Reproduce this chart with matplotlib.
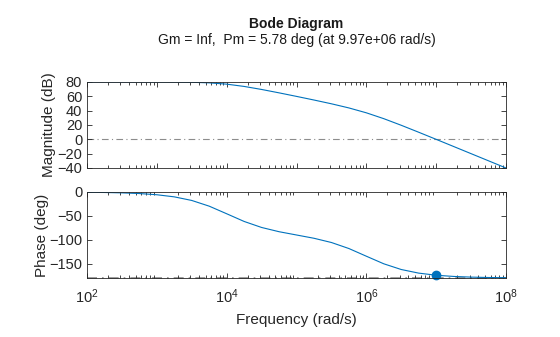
import numpy as np
from matplotlib import pyplot as plt
from matplotlib.ticker import LogLocator, LogFormatterSciNotation, NullFormatter

plt.rcParams.update({'font.family': ['Liberation Sans', 'DejaVu Sans'],
                     'mathtext.default': 'regular',
                     'font.size': 10.5})

# sampled frequency response (rad/s, dB, deg)
freq = [1e2, 1.778e2, 3.162e2, 5.623e2, 1e3, 1.778e3, 3.162e3, 5.623e3,
        1e4, 1.778e4, 3.162e4, 5.623e4, 1e5, 1.778e5, 3.162e5, 5.623e5,
        1e6, 1.778e6, 3.162e6, 5.623e6, 1e7, 1.778e7, 3.162e7, 5.623e7, 1e8]
mag_db = [80.00, 80.00, 80.00, 79.99, 79.96, 79.86, 79.59, 78.81,
          76.99, 73.80, 69.58, 64.85, 59.91, 54.85, 49.58, 43.81,
          36.99, 28.81, 19.59, 9.87, -0.04, -10.01, -20.00, -30.00, -40.00]
phase_deg = [-0.58, -1.03, -1.83, -3.25, -5.77, -10.18, -17.73, -29.68,
             -45.57, -61.66, -74.26, -83.14, -90.00, -96.86, -105.74, -118.34,
             -134.43, -150.32, -162.27, -169.82, -174.23, -176.75, -178.17, -178.97, -179.42]

# phase margin point
wc = 9.97e6
pm_phase = -174.22
pm = 5.78

blue = '#0072BD'
grey = '#8c8c8c'
axcol = '#262626'

fig = plt.figure(figsize=(5.6, 3.37), dpi=100)
ax1 = fig.add_axes([0.1554, 0.5015, 0.7482, 0.2552])
ax2 = fig.add_axes([0.1554, 0.1751, 0.7482, 0.2552])

ax1.semilogx(freq, mag_db, color=blue, lw=0.8)
ax1.axhline(0, color=grey, lw=0.8, ls=(0, (6, 3, 1, 3)), zorder=0)
ax1.set_ylim(-40, 80)
ax1.set_yticks([-40, -20, 0, 20, 40, 60, 80])
ax1.set_ylabel('Magnitude (dB)', fontsize=11, labelpad=1)

ax2.semilogx(freq, phase_deg, color=blue, lw=0.8)
ax2.axhline(-180, color=grey, lw=1.2, ls=(0, (6, 3, 1, 3)), zorder=0, clip_on=False)
ax2.plot([wc, wc], [-180, pm_phase], color=blue, lw=0.8)
ax2.plot(wc, pm_phase, 'o', color=blue, ms=6, clip_on=False)
ax2.set_ylim(-180, 0)
ax2.set_yticks([-150, -100, -50, 0])
ax2.set_ylabel('Phase (deg)', fontsize=11, labelpad=0)
ax2.set_xlabel('Frequency (rad/s)', fontsize=11, labelpad=5)

for ax in (ax1, ax2):
    ax.set_xlim(1e2, 1e8)
    ax.xaxis.set_major_locator(LogLocator(base=10, numticks=20))
    ax.xaxis.set_minor_locator(LogLocator(base=10, subs=np.arange(2, 10), numticks=20))
    ax.xaxis.set_minor_formatter(NullFormatter())
    ax.tick_params(which='both', direction='in', top=True, right=True,
                   colors=axcol, labelcolor=axcol, width=0.6)
    ax.tick_params(which='major', length=3.5)
    ax.tick_params(which='minor', length=2)
    ax.tick_params(axis='x', which='major', pad=7)
    for s in ax.spines.values():
        s.set_color(axcol)
        s.set_linewidth(0.6)
    ax.yaxis.label.set_color(axcol)
    ax.xaxis.label.set_color(axcol)

ax1.xaxis.set_major_formatter(NullFormatter())
ax2.xaxis.set_major_formatter(LogFormatterSciNotation())
ax2.set_xticks([1e2, 1e4, 1e6, 1e8])

fig.text(0.5295, 0.928, 'Bode Diagram', ha='center', va='center',
         fontweight='bold', fontsize=10, color='#1a1a1a')
fig.text(0.5295, 0.88, 'Gm = Inf,  Pm = %.2f deg (at %.2fe+06 rad/s)' % (pm, wc / 1e6),
         ha='center', va='center', fontsize=10, color='#1a1a1a')

fig.savefig('out.png', dpi=100)
